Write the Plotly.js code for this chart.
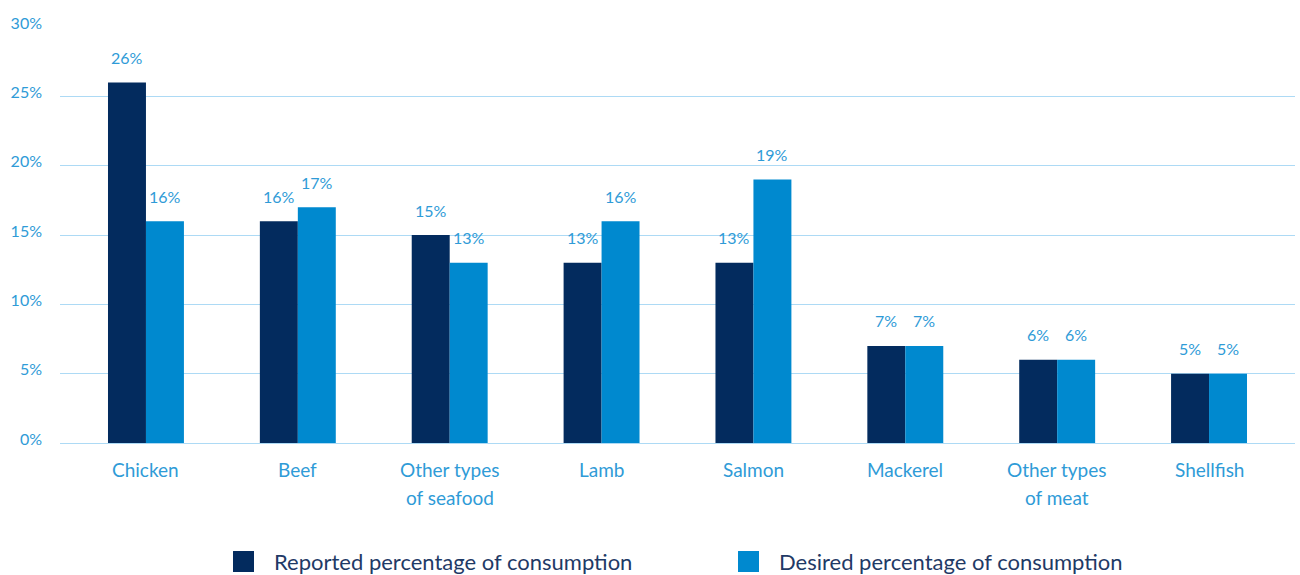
<!DOCTYPE html>
<html>
<head>
<meta charset="utf-8">
<script src="https://cdn.plot.ly/plotly-3.0.1.min.js"></script>
<style>
  html, body { margin: 0; padding: 0; background: #ffffff; }
  #chart { width: 1300px; height: 575px; }
</style>
</head>
<body>
<div id="chart"></div>
<script>
const categories = ["Chicken", "Beef", "Other types of seafood", "Lamb", "Salmon", "Mackerel", "Other types of meat", "Shellfish"];
const tickLines = [["Chicken"], ["Beef"], ["Other types", "of seafood"], ["Lamb"], ["Salmon"], ["Mackerel"], ["Other types", "of meat"], ["Shellfish"]];
const reported = [26, 16, 15, 13, 13, 7, 6, 5];
const desired = [16, 17, 13, 16, 19, 7, 6, 5];
const seriesNames = ["Reported percentage of consumption", "Desired percentage of consumption"];
const yTicks = [0, 5, 10, 15, 20, 25, 30];

const darkBlue = "#032B5E";
const lightBlue = "#0089CF";
const labelBlue = "#2F9BD7";
const legendText = "#1F3A66";
const gridColor = "#ADDAF5";
const FONT = "Lato, 'Open Sans', sans-serif";

const traces = [
  { type: "bar", name: seriesNames[0], x: categories, y: reported, marker: { color: darkBlue }, showlegend: false, hoverinfo: "x+y" },
  { type: "bar", name: seriesNames[1], x: categories, y: desired, marker: { color: lightBlue }, showlegend: false, hoverinfo: "x+y" }
];

const annotations = [];
// value labels
[reported, desired].forEach((vals, si) => {
  vals.forEach((v, i) => {
    annotations.push({
      x: categories[i], y: v, xref: "x", yref: "y",
      text: v + "%", showarrow: false,
      xshift: si === 0 ? -19 : 19, yshift: 25, yanchor: "middle",
      font: { family: FONT, size: 16, color: labelBlue }
    });
  });
});
// category labels
tickLines.forEach((lines, i) => {
  lines.forEach((ln, li) => {
    annotations.push({
      x: categories[i], y: 0, xref: "x", yref: "paper",
      text: ln, showarrow: false, yanchor: "middle",
      yshift: -26 - 28 * li,
      font: { family: FONT, size: 19, color: labelBlue }
    });
  });
});
// legend texts
const legendX = [0.1717, 0.5806];
const legendSq = [0.1401, 0.549];
const shapes = [];
seriesNames.forEach((nm, si) => {
  annotations.push({
    x: legendX[si], y: -0.2849, xref: "paper", yref: "paper",
    text: nm, showarrow: false, xanchor: "left", yanchor: "middle",
    font: { family: FONT, size: 22, color: legendText }
  });
  shapes.push({
    type: "rect", xref: "paper", yref: "paper",
    xsizemode: "pixel", ysizemode: "pixel",
    xanchor: legendSq[si], yanchor: -0.2849,
    x0: 0, x1: 21, y0: -10.5, y1: 10.5,
    fillcolor: si === 0 ? darkBlue : lightBlue, line: { width: 0 }
  });
});

const layout = {
  width: 1300, height: 575,
  margin: { l: 60, r: 5, t: 27, b: 132 },
  paper_bgcolor: "#ffffff", plot_bgcolor: "#ffffff",
  barmode: "group", bargap: 0.5, bargroupgap: 0,
  showlegend: false,
  font: { family: FONT, color: labelBlue },
  xaxis: {
    type: "category", range: [-0.566, 7.566],
    showticklabels: false, showgrid: false, zeroline: false, showline: false, ticks: ""
  },
  yaxis: {
    range: [0, 30], tickvals: yTicks, ticktext: yTicks.map(v => v + "%"),
    showgrid: true, gridcolor: gridColor, gridwidth: 1,
    zeroline: true, zerolinecolor: gridColor, zerolinewidth: 1,
    showline: false, ticks: "", ticklabelstandoff: 17, ticklabelshift: -4,
    tickfont: { family: FONT, size: 16, color: labelBlue }
  },
  annotations: annotations,
  shapes: shapes
};

Plotly.newPlot("chart", traces, layout, { displayModeBar: false, staticPlot: true });
</script>
</body>
</html>
